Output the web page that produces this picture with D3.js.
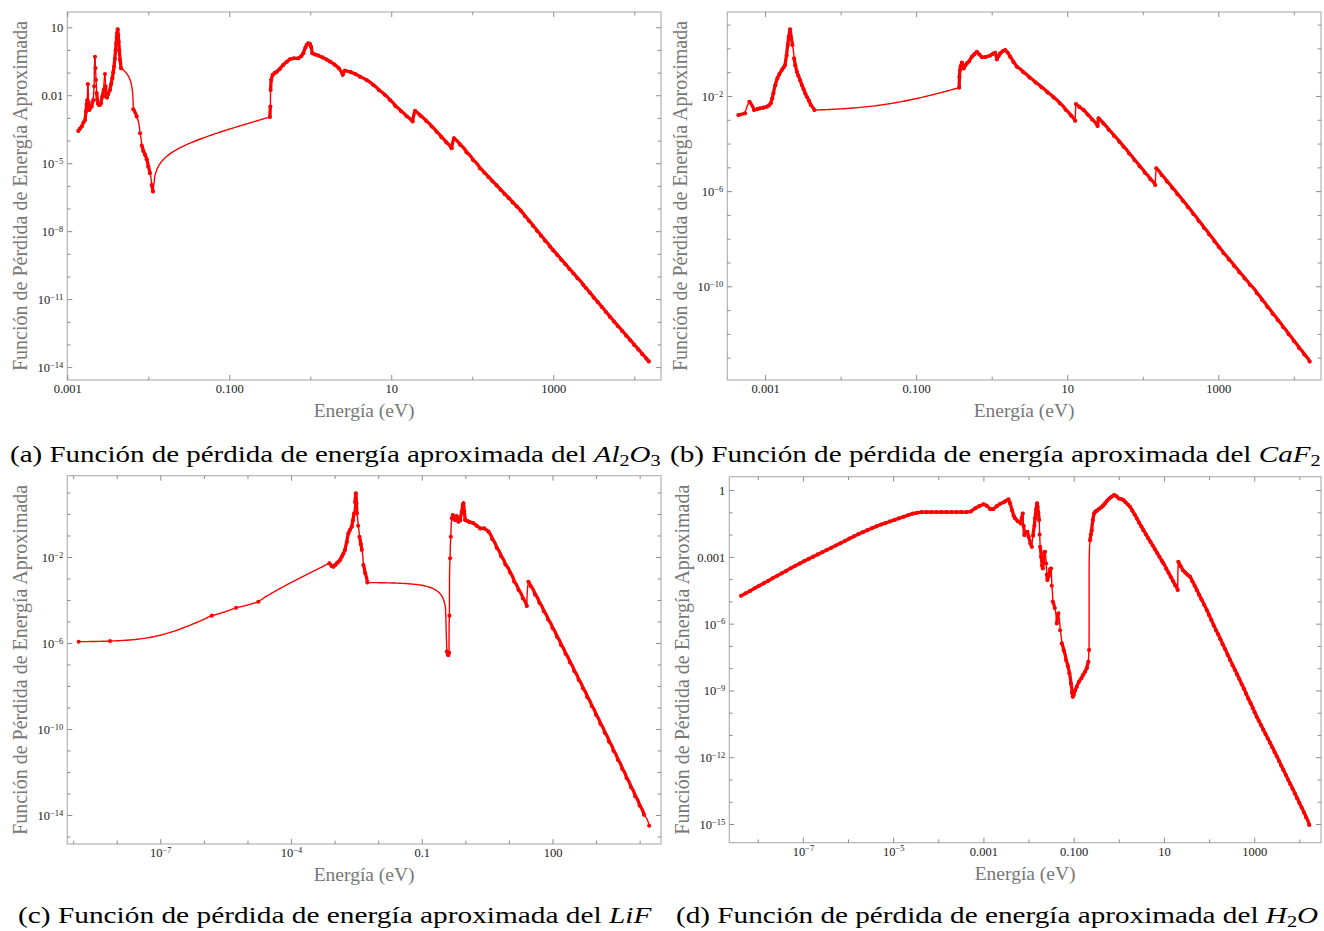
<!DOCTYPE html>
<html>
<head>
<meta charset="utf-8">
<script src="https://cdn.jsdelivr.net/npm/d3@7"></script>
<style>
  body { margin: 0; background: #ffffff; }
  svg text { font-family: "Liberation Serif", "Times New Roman", serif; }
</style>
</head>
<body>
<svg id="fig" width="1324" height="931"></svg>
<script>
// Approximate energy-loss function for four materials.
// Each series is stored as base-10 exponents: log10(E / eV) and log10(loss function).

const al2o3LogE = [-2.864,-2.845,-2.822,-2.80,-2.78,-2.769,-2.76,-2.753,-2.746,-2.738,
  -2.728,-2.715,-2.70,-2.679,-2.668,-2.658,-2.652,-2.646,-2.638,-2.63,
  -2.62,-2.609,-2.595,-2.584,-2.568,-2.55,-2.535,-2.528,-2.522,-2.51,
  -2.495,-2.473,-2.458,-2.444,-2.433,-2.423,-2.413,-2.403,-2.395,-2.39,
  -2.384,-2.378,-2.372,-2.366,-2.357,-2.349,-2.337,-2.185,-2.143,-2.102,
  -2.081,-2.061,-2.04,-2.02,-2.00,-1.979,-1.958,-1.942,-0.498,-0.492,
  -0.49,-0.482,-0.464,-0.44,-0.415,-0.38,-0.333,-0.29,-0.251,-0.20,
  -0.148,-0.11,-0.086,-0.06,-0.045,-0.025,-0.005,0.009,0.025,0.06,
  0.10,0.15,0.20,0.243,0.30,0.35,0.40,0.428,0.50,0.56,
  0.613,0.70,0.778,0.85,0.92,0.984,1.05,1.12,1.19,1.264,
  1.293,1.36,1.43,1.50,1.56,1.62,1.68,1.745,1.774,1.85,
  1.93,2.01,2.095,2.15,2.20,2.25,2.30,2.35,2.40,2.45,
  2.50,2.55,2.60,2.65,2.70,2.75,2.80,2.85,2.90,2.96,
  3.00,3.05,3.10,3.15,3.20,3.25,3.30,3.37,3.40,3.45,
  3.50,3.55,3.60,3.65,3.70,3.75,3.80,3.85,3.90,3.95,
  4.00,4.05,4.10,4.15,4.18];
const al2o3LogL = [-3.574,-3.48,-3.38,-3.20,-3.09,-2.72,-2.40,-2.21,-1.51,-2.30,
  -2.65,-2.55,-2.50,-2.21,-1.60,-0.30,-0.80,-1.32,-1.90,-2.21,
  -2.38,-2.43,-2.42,-2.35,-2.06,-1.75,-1.06,-1.60,-2.06,-2.10,
  -1.95,-1.77,-1.50,-1.25,-1.00,-0.74,-0.40,0.0,0.30,0.585,
  0.75,0.91,0.65,0.365,-0.05,-0.44,-0.81,-2.62,-2.94,-3.68,
  -4.22,-4.46,-4.63,-4.82,-5.15,-5.44,-5.96,-6.25,-2.96,-2.50,
  -1.77,-1.32,-1.10,-1.02,-0.96,-0.85,-0.66,-0.52,-0.41,-0.37,
  -0.37,-0.27,-0.15,0.10,0.22,0.29,0.27,0.146,-0.15,-0.20,
  -0.25,-0.33,-0.42,-0.515,-0.65,-0.80,-1.10,-0.91,-0.98,-1.07,
  -1.18,-1.34,-1.545,-1.78,-1.98,-2.21,-2.47,-2.70,-2.93,-3.16,
  -2.69,-2.90,-3.13,-3.38,-3.61,-3.85,-4.08,-4.34,-3.90,-4.18,
  -4.52,-4.86,-5.22,-5.42,-5.61,-5.80,-5.98,-6.17,-6.36,-6.54,
  -6.73,-6.91,-7.10,-7.33,-7.54,-7.76,-7.98,-8.20,-8.42,-8.68,
  -8.85,-9.05,-9.26,-9.46,-9.67,-9.87,-10.08,-10.37,-10.50,-10.71,
  -10.93,-11.14,-11.35,-11.57,-11.78,-11.99,-12.20,-12.40,-12.61,-12.81,
  -13.02,-13.22,-13.43,-13.63,-13.75];

const caf2LogE = [-3.353,-3.265,-3.208,-3.146,-3.10,-3.066,-3.02,-2.978,-2.95,-2.925,
  -2.905,-2.89,-2.865,-2.837,-2.81,-2.779,-2.755,-2.735,-2.715,-2.70,
  -2.685,-2.669,-2.655,-2.638,-2.616,-2.60,-2.58,-2.56,-2.535,-2.514,
  -2.49,-2.468,-2.448,-2.42,-2.395,-2.347,-0.43,-0.427,-0.42,-0.41,
  -0.395,-0.385,-0.37,-0.35,-0.33,-0.30,-0.262,-0.23,-0.196,-0.165,
  -0.13,-0.08,-0.02,0.02,0.046,0.069,0.09,0.113,0.145,0.179,
  0.21,0.245,0.29,0.333,0.42,0.50,0.58,0.66,0.74,0.82,
  0.90,0.98,1.05,1.106,1.115,1.16,1.216,1.27,1.33,1.402,
  1.415,1.48,1.55,1.62,1.69,1.746,1.82,1.89,1.96,2.03,
  2.10,2.166,2.179,2.25,2.32,2.39,2.46,2.53,2.60,2.67,
  2.74,2.81,2.88,2.95,3.01,3.071,3.14,3.21,3.28,3.35,
  3.42,3.512,3.58,3.65,3.72,3.79,3.86,3.93,4.00,4.07,
  4.14,4.21];
const caf2LogL = [-2.80,-2.73,-2.24,-2.59,-2.55,-2.52,-2.49,-2.45,-2.40,-2.31,
  -2.10,-1.89,-1.55,-1.26,-1.08,-0.91,-0.80,-0.70,-0.30,0.14,
  0.50,0.80,0.45,0.14,-0.42,-0.72,-0.98,-1.15,-1.35,-1.54,
  -1.72,-1.90,-2.03,-2.20,-2.38,-2.59,-1.65,-1.19,-0.91,-0.75,
  -0.60,-0.80,-0.84,-0.72,-0.63,-0.55,-0.35,-0.25,-0.14,-0.25,
  -0.37,-0.36,-0.30,-0.22,-0.18,-0.46,-0.33,-0.21,-0.12,-0.07,
  -0.17,-0.35,-0.58,-0.77,-1.00,-1.22,-1.43,-1.63,-1.85,-2.06,
  -2.30,-2.58,-2.82,-3.04,-2.34,-2.46,-2.59,-2.78,-2.99,-3.26,
  -2.94,-3.16,-3.42,-3.67,-3.92,-4.13,-4.42,-4.69,-4.96,-5.23,
  -5.49,-5.74,-5.04,-5.32,-5.59,-5.86,-6.13,-6.40,-6.68,-6.96,
  -7.25,-7.54,-7.82,-8.11,-8.36,-8.61,-8.87,-9.14,-9.41,-9.67,
  -9.94,-10.29,-10.57,-10.86,-11.15,-11.43,-11.72,-12.01,-12.30,-12.59,
  -12.87,-13.16];

const lifLogE = [-8.873,-8.155,-5.82,-5.262,-4.75,-3.12,-3.07,-3.03,-2.99,-2.95,
  -2.91,-2.875,-2.84,-2.80,-2.76,-2.72,-2.684,-2.65,-2.606,-2.58,
  -2.553,-2.53,-2.514,-2.50,-2.49,-2.46,-2.43,-2.40,-2.376,-2.34,
  -2.30,-2.248,-0.425,-0.40,-0.388,-0.375,-0.365,-0.35,-0.333,-0.31,
  -0.287,-0.26,-0.235,-0.20,-0.159,-0.12,-0.081,-0.06,-0.044,-0.025,
  -0.005,0.05,0.10,0.186,0.26,0.339,0.431,0.53,0.62,0.72,
  0.82,0.92,1.028,1.12,1.22,1.32,1.411,1.448,1.50,1.60,
  1.70,1.80,1.90,2.00,2.10,2.20,2.30,2.40,2.50,2.60,
  2.70,2.80,2.90,3.00,3.10,3.20,3.30,3.40,3.50,3.60,
  3.70,3.80,3.90,4.00,4.10,4.219];
const lifLogL = [-5.94,-5.91,-4.73,-4.36,-4.08,-2.29,-2.42,-2.45,-2.38,-2.29,
  -2.22,-2.14,-2.00,-1.85,-1.67,-1.30,-0.90,-0.75,-0.59,-0.30,
  0.03,0.55,0.96,0.50,0.03,-0.55,-1.06,-1.40,-1.67,-2.37,
  -2.75,-3.19,-6.40,-6.55,-6.56,-6.45,-4.73,-2.06,-1.06,-0.20,
  -0.05,-0.25,-0.28,-0.10,-0.36,-0.30,0.11,0.40,0.50,0.10,
  -0.28,-0.33,-0.38,-0.43,-0.55,-0.67,-0.67,-0.82,-1.17,-1.57,
  -1.96,-2.35,-2.72,-3.14,-3.53,-3.92,-4.28,-3.15,-3.35,-3.74,
  -4.13,-4.52,-4.91,-5.30,-5.70,-6.10,-6.50,-6.90,-7.30,-7.71,
  -8.11,-8.52,-8.93,-9.34,-9.76,-10.17,-10.59,-11.01,-11.43,-11.85,
  -12.28,-12.70,-13.13,-13.56,-13.99,-14.50];

const h2oLogE = [-8.37,-8.27,-8.17,-8.07,-7.97,-7.87,-7.77,-7.67,-7.57,-7.47,
  -7.37,-7.27,-7.17,-7.07,-6.97,-6.87,-6.77,-6.67,-6.57,-6.47,
  -6.37,-6.27,-6.17,-6.07,-5.97,-5.87,-5.77,-5.67,-5.57,-5.47,
  -5.37,-5.27,-5.17,-5.07,-4.97,-4.87,-4.77,-4.67,-4.57,-4.47,
  -4.37,-4.26,-4.15,-4.04,-3.93,-3.82,-3.71,-3.60,-3.49,-3.38,
  -3.28,-3.18,-3.09,-3.00,-2.93,-2.85,-2.78,-2.70,-2.63,-2.55,
  -2.50,-2.446,-2.41,-2.37,-2.33,-2.298,-2.24,-2.172,-2.15,-2.128,
  -2.11,-2.092,-2.06,-2.025,-2.00,-1.96,-1.928,-1.90,-1.87,-1.855,
  -1.83,-1.81,-1.80,-1.785,-1.766,-1.755,-1.744,-1.72,-1.70,-1.684,
  -1.665,-1.648,-1.633,-1.61,-1.595,-1.582,-1.55,-1.52,-1.50,-1.485,
  -1.463,-1.42,-1.374,-1.355,-1.339,-1.30,-1.264,-1.22,-1.169,-1.13,
  -1.095,-1.06,-1.035,-1.02,-1.00,-0.97,-0.931,-0.88,-0.83,-0.79,
  -0.748,-0.71,-0.674,-0.659,-0.637,-0.62,-0.60,-0.575,-0.548,-0.52,
  -0.489,-0.44,-0.39,-0.35,-0.305,-0.26,-0.21,-0.16,-0.105,-0.05,
  0.0,0.05,0.10,0.15,0.20,0.249,0.30,0.35,0.40,0.45,
  0.50,0.544,0.60,0.65,0.70,0.75,0.80,0.85,0.90,0.95,
  0.987,1.05,1.10,1.15,1.20,1.25,1.306,1.319,1.37,1.42,
  1.47,1.52,1.578,1.63,1.68,1.73,1.78,1.83,1.89,1.948,
  2.00,2.05,2.10,2.15,2.20,2.25,2.30,2.35,2.41,2.464,
  2.52,2.57,2.62,2.67,2.72,2.77,2.82,2.87,2.92,2.97,
  3.01,3.055,3.10,3.15,3.20,3.25,3.30,3.35,3.40,3.45,
  3.50,3.55,3.60,3.645,3.70,3.75,3.80,3.85,3.90,3.95,
  4.00,4.05,4.10,4.15,4.22];
const h2oLogL = [-4.75,-4.64,-4.53,-4.41,-4.30,-4.19,-4.08,-3.96,-3.85,-3.74,
  -3.63,-3.51,-3.40,-3.30,-3.19,-3.09,-2.99,-2.89,-2.79,-2.69,
  -2.59,-2.49,-2.39,-2.29,-2.18,-2.08,-1.98,-1.89,-1.80,-1.71,
  -1.63,-1.55,-1.48,-1.41,-1.34,-1.27,-1.20,-1.13,-1.06,-1.02,
  -0.99,-0.99,-0.99,-0.99,-0.99,-0.99,-0.99,-0.99,-0.99,-0.99,
  -0.96,-0.82,-0.72,-0.64,-0.70,-0.85,-0.85,-0.72,-0.62,-0.55,
  -0.48,-0.42,-0.60,-0.90,-1.15,-1.27,-1.40,-1.50,-1.25,-1.05,
  -1.60,-2.02,-1.90,-1.87,-2.10,-2.40,-2.55,-2.05,-1.60,-1.27,
  -0.85,-0.60,-0.75,-1.00,-1.35,-2.00,-2.55,-3.00,-3.40,-3.52,
  -3.10,-2.80,-2.77,-3.30,-3.80,-4.04,-3.85,-3.55,-3.52,-4.30,
  -5.01,-5.30,-5.99,-5.60,-5.54,-6.30,-6.88,-7.20,-7.63,-7.90,
  -8.23,-8.70,-9.10,-9.28,-9.20,-9.00,-8.83,-8.60,-8.45,-8.30,
  -8.16,-8.00,-7.71,-7.18,-2.25,-2.00,-1.80,-1.35,-1.05,-0.97,
  -0.93,-0.85,-0.78,-0.70,-0.60,-0.48,-0.38,-0.30,-0.22,-0.28,
  -0.38,-0.40,-0.45,-0.55,-0.65,-0.75,-0.93,-1.10,-1.28,-1.47,
  -1.64,-1.80,-1.99,-2.16,-2.32,-2.49,-2.66,-2.83,-3.00,-3.17,
  -3.29,-3.53,-3.71,-3.90,-4.09,-4.28,-4.49,-3.22,-3.42,-3.60,
  -3.70,-3.80,-3.89,-4.10,-4.30,-4.50,-4.71,-4.91,-5.15,-5.39,
  -5.62,-5.84,-6.07,-6.29,-6.48,-6.70,-6.92,-7.13,-7.40,-7.63,
  -7.87,-8.07,-8.28,-8.49,-8.71,-8.92,-9.15,-9.37,-9.58,-9.80,
  -9.98,-10.18,-10.36,-10.56,-10.76,-10.96,-11.16,-11.35,-11.55,-11.76,
  -11.96,-12.17,-12.38,-12.57,-12.80,-13.01,-13.21,-13.42,-13.63,-13.84,
  -14.05,-14.26,-14.47,-14.70,-15.04];

// Labelled ticks of each panel
const al2o3XTicks = [1e-3, 1e-1, 1e1, 1e3];
const al2o3XLabels = ["0.001", "0.100", "10", "1000"];
const al2o3YTicks = [1e1, 1e-2, 1e-5, 1e-8, 1e-11, 1e-14];
const al2o3YLabels = ["10", "0.01", "10^−5", "10^−8", "10^−11", "10^−14"];

const caf2XTicks = [1e-3, 1e-1, 1e1, 1e3];
const caf2XLabels = ["0.001", "0.100", "10", "1000"];
const caf2YTicks = [1e-2, 1e-6, 1e-10];
const caf2YLabels = ["10^−2", "10^−6", "10^−10"];

const lifXTicks = [1e-7, 1e-4, 1e-1, 1e2];
const lifXLabels = ["10^−7", "10^−4", "0.1", "100"];
const lifYTicks = [1e-2, 1e-6, 1e-10, 1e-14];
const lifYLabels = ["10^−2", "10^−6", "10^−10", "10^−14"];

const h2oXTicks = [1e-7, 1e-5, 1e-3, 1e-1, 1e1, 1e3];
const h2oXLabels = ["10^−7", "10^−5", "0.001", "0.100", "10", "1000"];
const h2oYTicks = [1e0, 1e-3, 1e-6, 1e-9, 1e-12, 1e-15];
const h2oYLabels = ["1", "0.001", "10^−6", "10^−9", "10^−12", "10^−15"];

const xTitle = "Energía (eV)";
const yTitle = "Función de Pérdida de Energía Aproximada";
const captionText = "Función de pérdida de energía aproximada del ";

const panels = [
  { id: "a", logE: al2o3LogE, logL: al2o3LogL,
    xTicks: al2o3XTicks, xLabels: al2o3XLabels, yTicks: al2o3YTicks, yLabels: al2o3YLabels,
    box: { left: 67.3, right: 661, top: 12, bottom: 380 },
    xDomain: [1e-3, 2.14e4], yDomain: [2.69e-15, 47.3],
    caption: { x: 10, y: 462, width: 651, parts: [["(a) " + captionText], ["Al", "i"], ["2", "sub"], ["O", "i"], ["3", "sub"]] } },
  { id: "b", logE: caf2LogE, logL: caf2LogL,
    xTicks: caf2XTicks, xLabels: caf2XLabels, yTicks: caf2YTicks, yLabels: caf2YLabels,
    box: { left: 727.3, right: 1321, top: 12, bottom: 380 },
    xDomain: [3.16e-4, 2.29e4], yDomain: [1.15e-14, 33.9],
    caption: { x: 670, y: 462, width: 651, parts: [["(b) " + captionText], ["CaF", "i"], ["2", "sub"]] } },
  { id: "c", logE: lifLogE, logL: lifLogL,
    xTicks: lifXTicks, xLabels: lifXLabels, yTicks: lifYTicks, yLabels: lifYLabels,
    box: { left: 67.3, right: 661, top: 475.7, bottom: 844 },
    xDomain: [7.33e-10, 3.09e4], yDomain: [4.47e-16, 60.3],
    caption: { x: 18, y: 923, width: 635, parts: [["(c) " + captionText], ["LiF", "i"]] } },
  { id: "d", logE: h2oLogE, logL: h2oLogL,
    xTicks: h2oXTicks, xLabels: h2oXLabels, yTicks: h2oYTicks, yLabels: h2oYLabels,
    box: { left: 729.3, right: 1321, top: 476.7, bottom: 842.7 },
    xDomain: [2.34e-9, 3.02e4], yDomain: [1.45e-16, 3.98],
    caption: { x: 676, y: 923, width: 643, parts: [["(d) " + captionText], ["H", "i"], ["2", "sub"], ["O", "i"]] } }
];

const RED = "#ff0000";
const FRAME = "#b3b3b3";
const TICK = "#8c8c8c";
const LABEL = "#1a1a1a";
const TITLE = "#777777";
const DENSE_GAP = 11;   // screen distance (px) below which neighbouring markers merge into a thick trace

const svg = d3.select("#fig");

function decadesIn(domain) {
  const lo = Math.ceil(Math.log10(domain[0]) - 1e-9);
  const hi = Math.floor(Math.log10(domain[1]) + 1e-9);
  return d3.range(lo, hi + 1).map(k => Math.pow(10, k));
}

function sameDecade(a, b) {
  return Math.abs(Math.log10(a) - Math.log10(b)) < 1e-6;
}

// Writes "10^−5" style labels as a base with a raised exponent
function writeLabel(text, label) {
  text.text(null);
  const parts = label.split("^");
  text.append("tspan").text(parts[0]);
  if (parts.length > 1) {
    text.append("tspan").attr("font-size", "8.5px").attr("dy", "-0.5em").text(parts[1]);
  }
}

function drawPanel(p) {
  const g = svg.append("g").attr("class", "panel-" + p.id);
  const b = p.box;
  const x = d3.scaleLog().domain(p.xDomain).range([b.left, b.right]);
  const y = d3.scaleLog().domain(p.yDomain).range([b.bottom, b.top]);

  const pts = p.logE.map((e, i) => [Math.pow(10, e), Math.pow(10, p.logL[i])]);

  // consecutive samples are joined by straight segments in linear E / loss space;
  // each segment is traced at log-spaced energies so it stays smooth on log axes
  const segments = [];
  for (let i = 0; i < pts.length - 1; i++) {
    const [e0, l0] = pts[i], [e1, l1] = pts[i + 1];
    const n = 60;
    const seg = [];
    for (let k = 0; k <= n; k++) {
      const e = e0 * Math.pow(e1 / e0, k / n);
      const t = (e - e0) / (e1 - e0);
      seg.push([e, l0 + (l1 - l0) * t]);
    }
    const gap = Math.hypot(x(e1) - x(e0), y(l1) - y(l0));
    segments.push({ seg, dense: gap < DENSE_GAP });
  }

  g.append("clipPath").attr("id", "clip-" + p.id)
    .append("rect").attr("x", b.left).attr("y", b.top)
    .attr("width", b.right - b.left).attr("height", b.bottom - b.top);

  const line = d3.line().x(d => x(d[0])).y(d => y(d[1]));
  const plot = g.append("g").attr("clip-path", "url(#clip-" + p.id + ")");
  plot.append("g").selectAll("path").data(segments).join("path")
    .attr("d", d => line(d.seg))
    .attr("fill", "none").attr("stroke", RED)
    .attr("stroke-width", d => d.dense ? 3.3 : 1.4)
    .attr("stroke-linejoin", "round").attr("stroke-linecap", "round");
  plot.append("g").selectAll("circle").data(pts).join("circle")
    .attr("cx", d => x(d[0])).attr("cy", d => y(d[1])).attr("r", 2.05).attr("fill", RED);

  // frame
  g.append("rect").attr("x", b.left).attr("y", b.top)
    .attr("width", b.right - b.left).attr("height", b.bottom - b.top)
    .attr("fill", "none").attr("stroke", FRAME).attr("stroke-width", 1.2);

  const xDec = decadesIn(p.xDomain);
  const yDec = decadesIn(p.yDomain);
  const MAJ = 5, MIN = 3.3;

  const sides = [
    { axis: d3.axisBottom(x).tickValues(xDec), tr: [0, b.bottom], attr: "y2", sign: -1, ticks: p.xTicks, labels: p.xLabels },
    { axis: d3.axisTop(x).tickValues(xDec), tr: [0, b.top], attr: "y2", sign: 1, ticks: p.xTicks, labels: null },
    { axis: d3.axisLeft(y).tickValues(yDec), tr: [b.left, 0], attr: "x2", sign: 1, ticks: p.yTicks, labels: p.yLabels },
    { axis: d3.axisRight(y).tickValues(yDec), tr: [b.right, 0], attr: "x2", sign: -1, ticks: p.yTicks, labels: null }
  ];

  sides.forEach((s, si) => {
    const ag = g.append("g").attr("transform", `translate(${s.tr[0]},${s.tr[1]})`).call(s.axis);
    ag.select(".domain").remove();
    ag.selectAll(".tick line")
      .attr("stroke", TICK).attr("stroke-width", 1)
      .attr(s.attr, d => s.sign * (s.ticks.some(v => sameDecade(v, d)) ? MAJ : MIN));
    ag.selectAll(".tick text").each(function (d) {
      const t = d3.select(this);
      if (!s.labels) { t.remove(); return; }
      const idx = s.ticks.findIndex(v => sameDecade(v, d));
      if (idx < 0) { t.remove(); return; }
      t.attr("fill", LABEL).attr("font-size", "12.5px")
        .attr("font-family", '"Liberation Serif","Times New Roman",serif');
      if (si === 0) {
        t.attr("y", 13).attr("dy", null);
      } else {
        t.attr("x", -4).attr("dy", "0.35em");
      }
      writeLabel(t, s.labels[idx]);
    });
  });

  // axis titles
  g.append("text").attr("x", (b.left + b.right) / 2).attr("y", b.bottom + 37)
    .attr("text-anchor", "middle").attr("font-size", "19.5px").attr("fill", TITLE).text(xTitle);
  g.append("text")
    .attr("transform", `translate(${b.left - 40},${(b.top + b.bottom) / 2}) rotate(-90)`)
    .attr("text-anchor", "middle").attr("font-size", "20px").attr("fill", TITLE).text(yTitle);

  // caption, widened to the column width
  const cap = g.append("text").attr("x", 0).attr("y", 0)
    .attr("font-size", "23px").attr("fill", "#000");
  let lowered = false;
  p.caption.parts.forEach(([txt, style]) => {
    const ts = cap.append("tspan").text(txt);
    if (style === "i") ts.attr("font-style", "italic");
    if (style === "sub") {
      ts.attr("font-size", "16px");
      if (!lowered) { ts.attr("dy", 4); lowered = true; }
    } else if (lowered) {
      ts.attr("dy", -4); lowered = false;
    }
  });
  const w = cap.node().getBBox().width;
  cap.attr("transform", `translate(${p.caption.x},${p.caption.y}) scale(${p.caption.width / w},1)`);
}

panels.forEach(drawPanel);
</script>
</body>
</html>
